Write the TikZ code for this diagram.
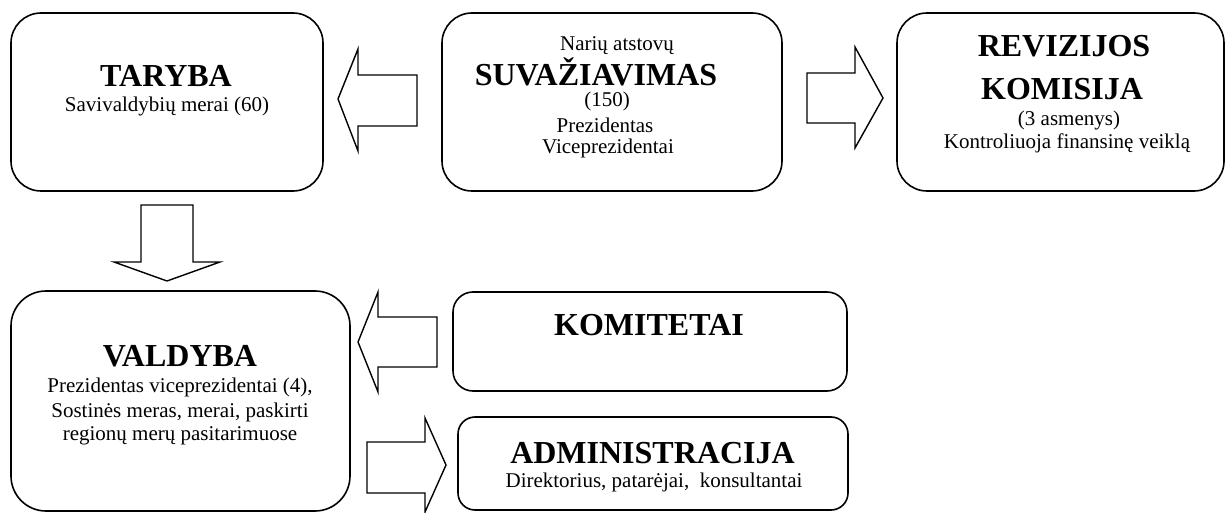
\documentclass[tikz,border=0pt]{standalone}
\usepackage{fontspec}
\setmainfont{Liberation Serif}
\begin{document}
\begin{tikzpicture}[x=1pt,y=-1pt,
  box/.style={draw, line width=1.6pt, rounded corners=#1, inner sep=0pt},
  box/.default=30pt,
  big/.style={anchor=base, inner sep=0pt, font=\fontsize{32}{36}\selectfont\bfseries},
  small/.style={anchor=base, inner sep=0pt, font=\fontsize{21}{24}\selectfont},
  blockarrow/.style={draw, line width=1.4pt, line join=miter, fill=white}]
\useasboundingbox (0,0) rectangle (1226,513);
% boxes
\node[box, minimum width=312pt, minimum height=178pt] (taryba) at (167,102) {};
\node[box, minimum width=340pt, minimum height=178pt] (suvaz) at (612,102) {};
\node[box, minimum width=327pt, minimum height=178pt] (reviz) at (1060.5,102) {};
\node[box=35pt, minimum width=339pt, minimum height=220pt] (valdyba) at (180.5,401) {};
\node[box=20pt, minimum width=394pt, minimum height=99pt] (komit) at (650,341.5) {};
\node[box=17pt, minimum width=390pt, minimum height=93pt] (admin) at (653,463.5) {};
% texts
\node[big] (t1) at (166,87) {TARYBA};
\node[small] (t2) at (167,112) {Savivaldybių merai (60)};
\node[small] (s1) at (617,51) {Narių atstovų};
\node[big] (s2) at (596,86) {SUVAŽIAVIMAS};
\node[small] (s3) at (607,107) {(150)};
\node[small] (s4) at (605,133) {Prezidentas};
\node[small] (s5) at (608,154) {Viceprezidentai};
\node[big] (r1) at (1064,57) {REVIZIJOS};
\node[big] (r2) at (1062,100) {KOMISIJA};
\node[small] (r3) at (1069,126) {(3 asmenys)};
\node[small] (r4) at (1067,149) {Kontroliuoja finansinę veiklą};
\node[big] (v1) at (180,366) {VALDYBA};
\node[small] (v2) at (180,392) {Prezidentas viceprezidentai (4),};
\node[small] (v3) at (180,417) {Sostinės meras, merai, paskirti};
\node[small] (v4) at (180,440) {regionų merų pasitarimuose};
\node[big] (k1) at (649,335) {KOMITETAI};
\node[big] (a1) at (652.5,463) {ADMINISTRACIJA};
\node[small] (a2) at (654,487) {Direktorius, patarėjai,\ \ konsultantai};
% block arrows
\draw[blockarrow] (338,99) -- (358,49) -- (358,75) -- (417,75) -- (417,126) -- (358,126) -- (358,151) -- cycle;
\draw[blockarrow] (807,73) -- (855,73) -- (855,47) -- (883,98) -- (855,148) -- (855,123) -- (807,123) -- cycle;
\draw[blockarrow] (141,205) -- (193,205) -- (193,262) -- (220,262) -- (167,281) -- (114,262) -- (141,262) -- cycle;
\draw[blockarrow] (358,342) -- (378,292) -- (378,317) -- (437,317) -- (437,367) -- (378,367) -- (378,392) -- cycle;
\draw[blockarrow] (367,442) -- (425,442) -- (425,418) -- (446,465) -- (425,512) -- (425,493) -- (367,493) -- cycle;
\end{tikzpicture}
\end{document}
